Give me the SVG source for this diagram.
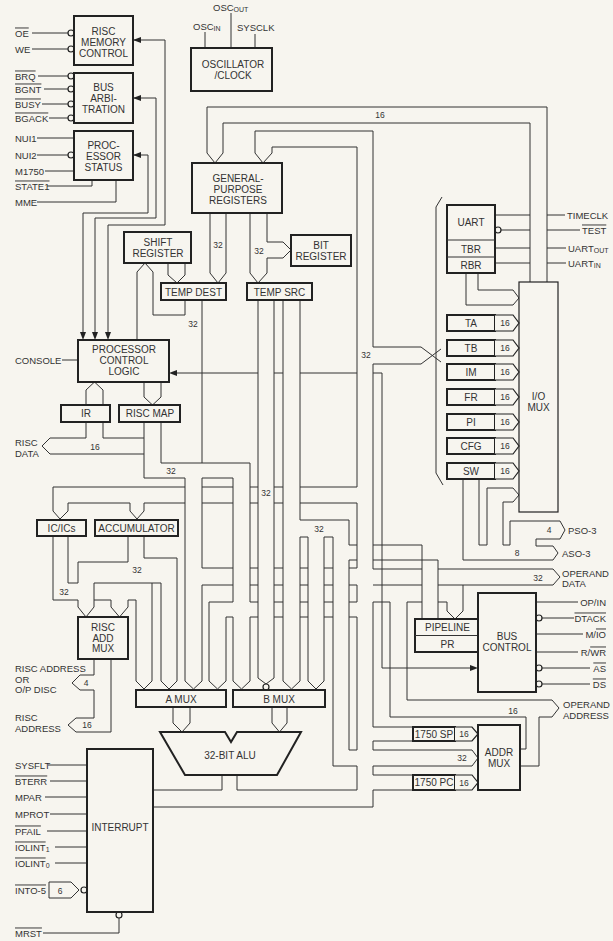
<svg xmlns="http://www.w3.org/2000/svg" width="613" height="941" viewBox="0 0 613 941">
<style>
.bg{fill:#f7f5ef}
.box{fill:#f7f5ef;stroke:#222;stroke-width:2}
.tb{fill:#f7f5ef;stroke:#222;stroke-width:1.2}
.w{fill:none;stroke:#333;stroke-width:1}
.t{font-family:"Liberation Sans",Arial,sans-serif;font-size:10px;fill:#333}
.s{font-size:9.5px}
.c{text-anchor:middle}
.e{text-anchor:end}
.n{font-size:8.5px}
.o{text-decoration:overline}
.ah{fill:#222}
.bub{fill:#f7f5ef;stroke:#222;stroke-width:1.2}
</style>
<rect width="613" height="941" class="bg"/>

<g id="connectors">
<!-- control wires -->
<path class="w" d="M32,33H68M32,49H68M38,76H68M44,89H68M42,104H68M49,118H68M37,138H74M37,155H68M45,171H74M47,186H92V180M37,202H116V180M62,360H78"/>
<path class="w" d="M133,40H165V225H108V334M133,98H156V218H95V334M133,155H148V213H83V334"/>
<polygon class="ah" points="133,40 141,37 141,43"/>
<polygon class="ah" points="133,98 141,95 141,101"/>
<polygon class="ah" points="133,155 141,152 141,158"/>
<polygon class="ah" points="83,340 80,332 86,332"/>
<polygon class="ah" points="95,340 92,332 98,332"/>
<polygon class="ah" points="108,340 105,332 111,332"/>
<path class="w" d="M205,32V48M231,13V48M255,34V48"/>
<path class="w" d="M495,215H530M547,215H565M501,230H530M547,230H580M495,248H530M547,248H566M495,263H530M547,263H566"/>
<path class="w" d="M536,602H578M542,618H574M536,634H583M536,652H578M542,668H590M542,684H590"/>
<path class="w" d="M48,765H87M50,781H87M45,797H87M50,814H87M47,831H87M55,847H87M55,863H87M43,933H119V918"/>
<path class="w" d="M49,882V898M49,882H71L79,890L71,898H49"/>
<path class="w" d="M177,373H258M274,373H283M300,373H357M373,373H382V668H470"/>
<polygon class="ah" points="169,373 177,370 177,376"/>
<polygon class="ah" points="478,668 470,665 470,671"/>

<!-- top 16-bit bus I/O MUX -> GPR -->
<path class="w" d="M547,282V107H207V153L215,163L223,153V123H530V282"/>
<!-- main 32-bit bus -->
<path class="w" d="M263,163L255,153V131H373V347M373,364V569M373,602V727M373,741V750M373,766V775M373,790V807H153"/>
<path class="w" d="M263,163L272,153V147H357V487M357,503V568M357,585V602M357,617V750M357,766V790H237V775M222,775V790H153"/>
<!-- branch to I/O register bus -->
<path class="w" d="M373,347H421L441,362M373,364H421L441,349"/>
<path class="w" d="M442,197L436,207V473L443,485"/>
<!-- operand data / pipeline / operand address -->
<path class="w" d="M373,569H422M438,569H553L560,577L553,585H438M422,585H373"/>
<path class="w" d="M463,585V611L455,619L447,611V602H438M422,602H407V700H552L559,708L552,717H539V766H520"/>
<path class="w" d="M373,602H390V717H526V749H520"/>
<!-- pipeline output -->
<path class="w" d="M422,619V545H373M357,545H349M438,619V560H373M357,560H349"/>
<!-- 1750 SP / 32 / 1750 PC -->
<path class="w" d="M373,727H413M373,741H413M373,750H472L478,758L472,766H373M373,775H413M373,790H413"/>
<!-- bus 333..349 to B MUX -->
<path class="w" d="M300,520H349V545M349,560V750H357M300,537H308V681L316,689L324,681V537H333V766H357"/>

<!-- GPR -> TEMP DEST / TEMP SRC / BIT REG -->
<path class="w" d="M210,213V273L218,283L226,273V213"/>
<path class="w" d="M250,213V273L258,283L267,273V258H283L291,250L283,242H267V213"/>
<path class="w" d="M168,263V275L177,283L185,275V263"/>
<!-- TEMP DEST out -->
<path class="w" d="M185,300V315H153V272L145,263L137,272V340M202,300V463"/>
<!-- IR / RISC MAP -->
<path class="w" d="M86,405V390L94.5,382L103,390V405"/>
<path class="w" d="M144,382V397L152.5,405L161,397V382"/>
<path class="w" d="M86,422V438H50L42,446L50,454H144M103,422V438H144"/>
<!-- RISC MAP bus -> A MUX 3, B MUX 1 -->
<path class="w" d="M144,422V478H185V681L193.5,689L202,681V585M202,568V478H233V602M233,617V681L241.5,689L250,681V617M250,602V463H161V422"/>
<!-- bus A (568..585) to A MUX 3 -->
<path class="w" d="M202,568H233M250,568H258M274,568H283M300,568H308M324,568H333M349,568H357M202,585H233M250,585H258M274,585H283M300,585H308M324,585H333M349,585H357"/>
<!-- bus B (602..617) to A MUX 4 / B MUX 1 -->
<path class="w" d="M209,681V602H233M250,602H258M274,602H283M300,602H308M324,602H333M349,602H357M217.5,689L209,681M217.5,689L226,681V617H233M250,617H258M274,617H283M300,617H308M324,617H333M349,617H357"/>
<!-- TEMP SRC -> B MUX -->
<path class="w" d="M258,300V678L266,684L274,678V300M283,300V681L291.5,689L300,681V537M300,520V300"/>
<!-- H1: main bus -> IC/ICs, ACCUMULATOR -->
<path class="w" d="M185,487H53V511L60,519L68,511V503H130V511L137,519L144,511V503H185"/>
<path class="w" d="M202,487H233M250,487H258M274,487H283M300,487H357M202,503H233M250,503H258M274,503H283M300,503H357"/>
<!-- IC/ICs, ACCUMULATOR outputs -->
<path class="w" d="M53,536V600H78M68,536V583H78"/>
<path class="w" d="M128,536V562H78V583M78,600V607L86,617L94,607V583H161V681L169,689L177,681V558H144V536"/>
<path class="w" d="M152,583V681L144,689L136,681V600H128V607L119.5,617L111,607V600H94"/>
<!-- RISC ADD MUX outputs -->
<path class="w" d="M94,659V675H80L72,683L80,690H94V718H76L68,725L76,732H111V659"/>
<!-- A/B MUX -> ALU -->
<path class="w" d="M173,707V723L182,732L190,723V707M272,707V723L279.5,732L287,723V707"/>
<!-- I/O MUX / SW -> PSO-3, ASO-3 -->
<path class="w" d="M519,495L513,488H487V545H479V479M519,495L513,502H503V545H510V521H560L565,530L560,539H536V546H553L558,553L553,560H463V479"/>
<!-- RBR -> I/O MUX -->
<path class="w" d="M478,273V290H513L519,298L513,305H466V273"/>
</g>

<g id="bubbles">
<circle class="bub" cx="71" cy="33" r="3"/><circle class="bub" cx="71" cy="49" r="3"/>
<circle class="bub" cx="71" cy="76" r="3"/><circle class="bub" cx="71" cy="89" r="3"/>
<circle class="bub" cx="71" cy="104" r="3"/><circle class="bub" cx="71" cy="118" r="3"/>
<circle class="bub" cx="71" cy="155" r="3"/>
<circle class="bub" cx="498" cy="230" r="3"/>
<circle class="bub" cx="539" cy="618" r="3"/><circle class="bub" cx="539" cy="668" r="3"/><circle class="bub" cx="539" cy="684" r="3"/>
<circle class="bub" cx="84" cy="890" r="3"/><circle class="bub" cx="119" cy="915" r="3"/>
<circle class="bub" cx="266" cy="687" r="3"/>
</g>

<g id="risc-memory-control"><rect class="box" x="74" y="16" width="59" height="49"/><text class="t c"><tspan x="103.5" y="35">RISC</tspan><tspan x="103.5" y="46">MEMORY</tspan><tspan x="103.5" y="56.5">CONTROL</tspan></text></g>
<g id="bus-arbitration"><rect class="box" x="74" y="73" width="59" height="50"/><text class="t c"><tspan x="103.5" y="91">BUS</tspan><tspan x="103.5" y="102">ARBI-</tspan><tspan x="103.5" y="113">TRATION</tspan></text></g>
<g id="processor-status"><rect class="box" x="74" y="131" width="59" height="49"/><text class="t c"><tspan x="103.5" y="149">PROC-</tspan><tspan x="103.5" y="160">ESSOR</tspan><tspan x="103.5" y="171">STATUS</tspan></text></g>
<g id="oscillator"><rect class="box" x="191" y="48" width="81" height="43"/><text class="t c"><tspan x="233" y="67.5">OSCILLATOR</tspan><tspan x="233" y="79">/CLOCK</tspan></text></g>
<g id="gpr"><rect class="box" x="192" y="163" width="90" height="50"/><text class="t c"><tspan x="238" y="181.5">GENERAL-</tspan><tspan x="238" y="192.5">PURPOSE</tspan><tspan x="238" y="203.5">REGISTERS</tspan></text></g>
<g id="shift-register"><rect class="box" x="124" y="232" width="67" height="31"/><text class="t c"><tspan x="158" y="245.5">SHIFT</tspan><tspan x="158" y="256.5">REGISTER</tspan></text></g>
<g id="bit-register"><rect class="box" x="291" y="235" width="60" height="31"/><text class="t c"><tspan x="321" y="248.5">BIT</tspan><tspan x="321" y="259.5">REGISTER</tspan></text></g>
<g id="temp-dest"><rect class="box" x="161" y="283" width="65" height="17"/><text class="t c" x="193.5" y="295.5">TEMP DEST</text></g>
<g id="temp-src"><rect class="box" x="247" y="283" width="65" height="17"/><text class="t c" x="279.5" y="295.5">TEMP SRC</text></g>
<g id="pcl"><rect class="box" x="78" y="340" width="91" height="42"/><text class="t c"><tspan x="124" y="352.5">PROCESSOR</tspan><tspan x="124" y="363.5">CONTROL</tspan><tspan x="124" y="375">LOGIC</tspan></text></g>
<g id="ir"><rect class="box" x="61" y="405" width="49" height="17"/><text class="t c" x="86" y="417">IR</text></g>
<g id="risc-map"><rect class="box" x="119" y="405" width="61" height="17"/><text class="t c" x="150" y="417">RISC MAP</text></g>
<g id="ic-ics"><rect class="box" x="37" y="520" width="49" height="16"/><text class="t c" x="61.5" y="531.5">IC/ICs</text></g>
<g id="accumulator"><rect class="box" x="95" y="520" width="83" height="16"/><text class="t c" x="136.5" y="531.5">ACCUMULATOR</text></g>
<g id="risc-add-mux"><rect class="box" x="78" y="617" width="50" height="42"/><text class="t c"><tspan x="103" y="630.5">RISC</tspan><tspan x="103" y="641.5">ADD</tspan><tspan x="103" y="652">MUX</tspan></text></g>
<g id="a-mux"><rect class="box" x="136" y="690" width="90" height="17"/><text class="t c" x="181" y="702.5">A MUX</text></g>
<g id="b-mux"><rect class="box" x="233" y="690" width="92" height="17"/><text class="t c" x="279" y="702.5">B MUX</text></g>
<g id="alu"><path class="box" d="M160,732H225L231,742L237,732H301L277,775H185Z"/><text class="t c" x="230" y="758.5">32-BIT ALU</text></g>
<g id="interrupt"><rect class="box" x="87" y="749" width="66" height="163"/><text class="t c" x="120" y="830.5">INTERRUPT</text></g>
<g id="uart"><rect class="box" x="447" y="205" width="48" height="68"/><path class="w" d="M447,240H495M447,257H495"/><text class="t c"><tspan x="471" y="225.5">UART</tspan><tspan x="471" y="252.5">TBR</tspan><tspan x="471" y="268.5">RBR</tspan></text></g>
<g id="io-mux"><rect class="tb" x="519" y="282" width="39" height="230"/><text class="t c"><tspan x="538.5" y="400">I/O</tspan><tspan x="538.5" y="411">MUX</tspan></text></g>
<g id="ta"><rect class="box" x="447" y="315" width="48" height="16"/><text class="t c" x="471" y="326.5">TA</text><path class="tb" d="M495,315H513L519,323L513,331H495"/><text class="t c n" x="505" y="326">16</text></g>
<g id="tb"><rect class="box" x="447" y="340" width="48" height="16"/><text class="t c" x="471" y="351.5">TB</text><path class="tb" d="M495,340H513L519,348L513,356H495"/><text class="t c n" x="505" y="351">16</text></g>
<g id="im"><rect class="box" x="447" y="364" width="48" height="16"/><text class="t c" x="471" y="375.5">IM</text><path class="tb" d="M495,364H513L519,372L513,380H495"/><text class="t c n" x="505" y="375">16</text></g>
<g id="fr"><rect class="box" x="447" y="389" width="48" height="16"/><text class="t c" x="471" y="400.5">FR</text><path class="tb" d="M495,389H513L519,397L513,405H495"/><text class="t c n" x="505" y="400">16</text></g>
<g id="pi"><rect class="box" x="447" y="414" width="48" height="16"/><text class="t c" x="471" y="425.5">PI</text><path class="tb" d="M495,414H513L519,422L513,430H495"/><text class="t c n" x="505" y="425">16</text></g>
<g id="cfg"><rect class="box" x="447" y="438" width="48" height="16"/><text class="t c" x="471" y="449.5">CFG</text><path class="tb" d="M495,438H513L519,446L513,454H495"/><text class="t c n" x="505" y="449">16</text></g>
<g id="sw"><rect class="box" x="447" y="463" width="48" height="16"/><text class="t c" x="471" y="474.5">SW</text><path class="tb" d="M495,463H513L519,471L513,479H495"/><text class="t c n" x="505" y="474">16</text></g>
<g id="pipeline"><rect class="box" x="415" y="619" width="65" height="33"/><path class="w" d="M415,635.5H480"/><text class="t c"><tspan x="447.5" y="631">PIPELINE</tspan><tspan x="447.5" y="648">PR</tspan></text></g>
<g id="bus-control"><rect class="box" x="478" y="593" width="58" height="99"/><text class="t c"><tspan x="507" y="640">BUS</tspan><tspan x="507" y="651">CONTROL</tspan></text></g>
<g id="sp"><rect class="box" x="413" y="727" width="42" height="14"/><text class="t c" x="434" y="737.5">1750 SP</text><path class="tb" d="M455,727H472L478,734L472,741H455"/><text class="t c n" x="464" y="737">16</text></g>
<g id="pc"><rect class="box" x="413" y="775" width="42" height="15"/><text class="t c" x="434" y="786">1750 PC</text><path class="tb" d="M455,775H472L478,782.5L472,790H455"/><text class="t c n" x="464" y="785.5">16</text></g>
<g id="addr-mux"><rect class="box" x="478" y="725" width="42" height="65"/><text class="t c"><tspan x="499" y="755.5">ADDR</tspan><tspan x="499" y="766.5">MUX</tspan></text></g>

<g id="labels">
<text class="t s o" x="15" y="36.5">OE</text>
<text class="t s" x="15" y="52.5">WE</text>
<text class="t s o" x="15" y="79.5">BRQ</text>
<text class="t s o" x="15" y="92.5">BGNT</text>
<text class="t s o" x="15" y="107.5">BUSY</text>
<text class="t s o" x="15" y="121.5">BGACK</text>
<text class="t s" x="15" y="141.5">NUI1</text>
<text class="t s" x="15" y="158.5">NUI2</text>
<text class="t s" x="15" y="174.5">M1750</text>
<text class="t s o" x="15" y="189.5">STATE1</text>
<text class="t s" x="15" y="205.5">MME</text>
<text class="t s" x="193" y="29.5">OSC<tspan font-size="7" dy="1.5">IN</tspan></text>
<text class="t s" x="213" y="10.5">OSC<tspan font-size="7" dy="1.5">OUT</tspan></text>
<text class="t s" x="237" y="30.5">SYSCLK</text>
<text class="t n c" x="380" y="118">16</text>
<text class="t n c" x="218" y="248">32</text>
<text class="t n c" x="259" y="254">32</text>
<text class="t n c" x="193" y="327">32</text>
<text class="t n c" x="366" y="358">32</text>
<text class="t s" x="15" y="363.5">CONSOLE</text>
<text class="t s"><tspan x="15" y="445.5">RISC</tspan><tspan x="15" y="456.5">DATA</tspan></text>
<text class="t n c" x="95" y="449.5">16</text>
<text class="t n c" x="171" y="474">32</text>
<text class="t n c" x="266" y="496">32</text>
<text class="t n c" x="64" y="595">32</text>
<text class="t n c" x="137" y="573">32</text>
<text class="t n c" x="319" y="531.5">32</text>
<text class="t s"><tspan x="15" y="671.5">RISC ADDRESS</tspan><tspan x="15" y="682.5">OR</tspan><tspan x="15" y="692.5">O/P DISC</tspan></text>
<text class="t n c" x="86" y="686">4</text>
<text class="t s"><tspan x="15" y="720.5">RISC</tspan><tspan x="15" y="731.5">ADDRESS</tspan></text>
<text class="t n c" x="87" y="728">16</text>
<text class="t s" x="567" y="218.5">TIMECLK</text>
<text class="t s o" x="582" y="233.5">TEST</text>
<text class="t s" x="568" y="251.5">UART<tspan font-size="7" dy="1.5">OUT</tspan></text>
<text class="t s" x="568" y="266.5">UART<tspan font-size="7" dy="1.5">IN</tspan></text>
<text class="t n c" x="549" y="533">4</text>
<text class="t s" x="568" y="533.5">PSO-3</text>
<text class="t n c" x="517" y="556">8</text>
<text class="t s" x="562" y="556.5">ASO-3</text>
<text class="t n c" x="538" y="580.5">32</text>
<text class="t s"><tspan x="562" y="576.5">OPERAND</tspan><tspan x="562" y="587">DATA</tspan></text>
<text class="t s e" x="606" y="605.5">OP/IN</text>
<text class="t s e o" x="606" y="621.5">DTACK</text>
<text class="t s e" x="606" y="637.5">M/<tspan class="o">IO</tspan></text>
<text class="t s e" x="606" y="655.5">R/<tspan class="o">WR</tspan></text>
<text class="t s e o" x="606" y="671.5">AS</text>
<text class="t s e o" x="606" y="687.5">DS</text>
<text class="t s"><tspan x="563" y="707.5">OPERAND</tspan><tspan x="563" y="718.5">ADDRESS</tspan></text>
<text class="t n c" x="513" y="714">16</text>
<text class="t n c" x="462" y="761">32</text>
<text class="t s" x="15" y="768.5">SYSFLT</text>
<text class="t s o" x="15" y="784.5">BTERR</text>
<text class="t s" x="15" y="800.5">MPAR</text>
<text class="t s" x="15" y="817.5">MPROT</text>
<text class="t s o" x="15" y="834.5">PFAIL</text>
<text class="t s" x="15" y="850.5"><tspan class="o">IOLINT</tspan><tspan font-size="7" dy="1.5">1</tspan></text>
<text class="t s" x="15" y="866.5"><tspan class="o">IOLINT</tspan><tspan font-size="7" dy="1.5">0</tspan></text>
<text class="t s o" x="15" y="893.5">INTO-5</text>
<text class="t n c" x="60" y="893.5">6</text>
<text class="t s o" x="15" y="936.5">MRST</text>
</g>
</svg>
